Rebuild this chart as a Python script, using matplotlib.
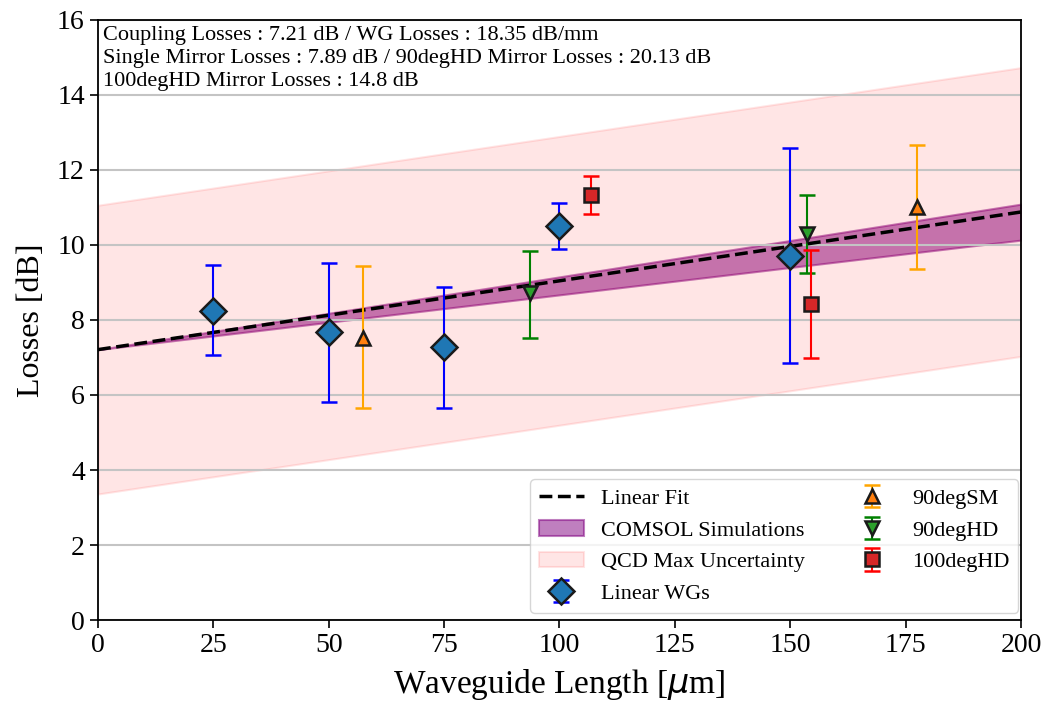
import matplotlib
matplotlib.use('Agg')
import matplotlib.pyplot as plt
import numpy as np

plt.rcParams['font.family'] = ['Liberation Serif', 'DejaVu Serif']

# fit parameters (from the text box)
coupling = 7.21          # dB
wg_loss = 18.35 / 1000   # dB/um
comsol_slope_hi = 0.0194
comsol_slope_lo = 0.0146
qcd_unc = 3.85

# Linear waveguides
wg_x = [25, 50, 75, 100, 150]
wg_y = [8.24, 7.68, 7.28, 10.51, 9.71]
wg_lo = [7.07, 5.81, 5.65, 9.89, 6.85]
wg_hi = [9.47, 9.52, 8.88, 11.12, 12.59]

# 90degSM
sm_x = [57.5, 177.5]
sm_y = [7.52, 11.01]
sm_lo = [5.65, 9.36]
sm_hi = [9.44, 12.67]

# 90degHD
hd90_x = [93.6, 153.6]
hd90_y = [8.72, 10.29]
hd90_lo = [7.52, 9.25]
hd90_hi = [9.84, 11.33]

# 100degHD
hd100_x = [106.8, 154.5]
hd100_y = [11.33, 8.43]
hd100_lo = [10.83, 6.99]
hd100_hi = [11.84, 9.87]

L = np.linspace(0, 200, 201)
fit = coupling + wg_loss * L

fig = plt.figure(figsize=(10.49, 7.06), dpi=100)
ax = fig.add_axes([0.0934, 0.1218, 0.8799, 0.8499])

ln_fit, = ax.plot(L, fit, '--', color='black', lw=2.5, label='Linear Fit', zorder=3)
comsol = ax.fill_between(L, coupling + comsol_slope_lo * L, coupling + comsol_slope_hi * L,
                         color='purple', alpha=0.5, lw=1.5, label='COMSOL Simulations')
qcd = ax.fill_between(L, fit - qcd_unc, fit + qcd_unc, color='red', alpha=0.1, lw=1.5,
                      label='QCD Max Uncertainty')

def yerr(y, lo, hi):
    y = np.asarray(y); return [y - np.asarray(lo), np.asarray(hi) - y]

kw = dict(ls='none', mec='#1a1a1a', mew=1.8, capsize=6, elinewidth=1.5, capthick=1.5, zorder=4)
e1 = ax.errorbar(wg_x, wg_y, yerr=yerr(wg_y, wg_lo, wg_hi), fmt='D', ms=13, mfc='tab:blue',
                 ecolor='blue', label='Linear WGs', **kw)
e2 = ax.errorbar(sm_x, sm_y, yerr=yerr(sm_y, sm_lo, sm_hi), fmt='^', ms=10, mfc='tab:orange',
                 ecolor='orange', label='90degSM', **kw)
e3 = ax.errorbar(hd90_x, hd90_y, yerr=yerr(hd90_y, hd90_lo, hd90_hi), fmt='v', ms=10, mfc='tab:green',
                 ecolor='green', label='90degHD', **kw)
e4 = ax.errorbar(hd100_x, hd100_y, yerr=yerr(hd100_y, hd100_lo, hd100_hi), fmt='s', ms=10, mfc='tab:red',
                 ecolor='red', label='100degHD', **kw)

ax.set_xlim(0, 200)
ax.set_ylim(0, 16)
ax.set_xticks(np.arange(0, 201, 25))
ax.set_yticks(np.arange(0, 17, 2))
ax.set_axisbelow('line')
ax.yaxis.grid(True, color='#c4c4c4', lw=1.5)
ax.tick_params(axis='both', labelsize=20, length=6, width=1.2)
for s in ax.spines.values():
    s.set_linewidth(1.3)
ax.set_xlabel(r'Waveguide Length [$\mu$m]', fontsize=24, labelpad=6)
ax.set_ylabel('Losses [dB]', fontsize=23, labelpad=8)

ax.text(0.005, 0.990,
        'Coupling Losses : 7.21 dB / WG Losses : 18.35 dB/mm\n'
        'Single Mirror Losses : 7.89 dB / 90degHD Mirror Losses : 20.13 dB\n'
        '100degHD Mirror Losses : 14.8 dB',
        transform=ax.transAxes, va='top', ha='left', fontsize=16, linespacing=1.3)

ax.legend(handles=[ln_fit, comsol, qcd, e1, e2, e3, e4], loc='lower right', ncol=2,
          fontsize=16, columnspacing=2.0, borderaxespad=0, bbox_to_anchor=(0.997, 0.012))

fig.savefig('out.png', dpi=100)
